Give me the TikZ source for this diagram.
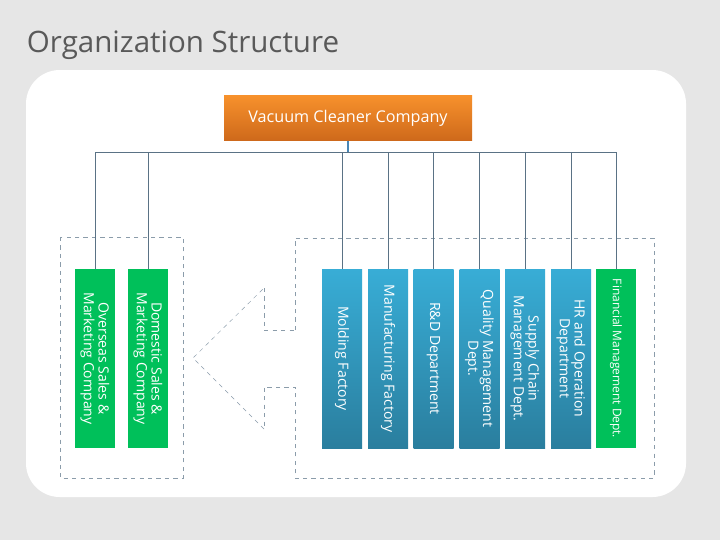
\documentclass[tikz,border=0pt]{standalone}
\usepackage{fontspec}
\setmainfont{Open Sans}
\usetikzlibrary{positioning}
\definecolor{bgGray}{HTML}{E6E6E6}
\definecolor{lineGray}{HTML}{5A7285}
\definecolor{deptBlueT}{HTML}{38ADD6}
\definecolor{deptBlueB}{HTML}{2A7E9E}
\definecolor{deptGreen}{HTML}{00C05A}
\definecolor{ceoTop}{HTML}{F7912C}
\definecolor{ceoBot}{HTML}{CE691B}
\definecolor{stemBlue}{HTML}{4A86B4}
\tikzset{
    dept/.style={minimum width=40, minimum height=179, inner sep=0pt, top color=deptBlueT, bottom color=deptBlueB, draw=none},
    deptG/.style={minimum width=40, minimum height=179, inner sep=0pt, fill=deptGreen, draw=none},
    deptText/.style={rotate=-90, text=white, align=center, font=\fontsize{10}{10.5}\selectfont, inner sep=0pt},
    link/.style={draw=lineGray, line width=0.7pt},
    frame/.style={draw=lineGray!70, dashed, line width=0.5pt},
}
\begin{document}
\begin{tikzpicture}[x=0.025cm, y=-0.025cm]
    \useasboundingbox (0,0) rectangle (720,540);
    \fill[bgGray] (0,0) rectangle (720,540);
    \fill[white, rounded corners=24] (26,70) rectangle (686,497);

    \node[text=black!65, anchor=west, font=\fontsize{21}{21}\selectfont] (title) at (22,45) {Organization Structure};

    % Top company
    \node[top color=ceoTop, bottom color=ceoBot, minimum width=248*0.025cm, minimum height=45*0.025cm, text=white, font=\fontsize{11.5}{12}\selectfont] (ceo) at (348,118) {Vacuum Cleaner Company};
    \coordinate (hub) at (348,152);
    \draw[stemBlue, line width=1.8pt] (ceo.south) -- (hub);

    % Dashed groups
    \draw[frame] (60,237) rectangle (183,478);
    \draw[frame] (295,330) -- (295,238) -- (654,238) -- (654,478) -- (295,478) -- (295,387) -- (264,387) -- (264,429);
    \draw[frame, line width=0.3pt] (264,429) -- (193,358) -- (264,288);
    \draw[frame] (264,288) -- (264,330) -- (295,330);

    % Departments
    \foreach \name/\cx/\sty/\txt in {
        o1/95/deptG/{Overseas Sales \&\\Marketing Company},
        o2/148/deptG/{Domestic Sales \&\\Marketing Company},
        m1/342/dept/{Molding Factory},
        m2/388/dept/{Manufacturing Factory},
        m3/433.5/dept/{R\&D Department},
        m4/479.5/dept/{Quality Management\\Dept.},
        m5/525/dept/{Supply Chain\\Management Dept.},
        m6/571/dept/{HR and Operation\\Department}}{
        \node[\sty, minimum width=40*0.025cm, minimum height=179*0.025cm] (\name) at (\cx,358.5) {};
        \node[deptText] (\name t) at (\name.center) {\txt};
        \draw[link] (\name.north) |- (hub);
    }
    \node[deptG, minimum width=40*0.025cm, minimum height=179*0.025cm] (m7) at (616,358.5) {};
    \node[deptText, font=\fontsize{8.5}{9}\selectfont] (m7t) at (m7.center) {Financial Management Dept.};
    \draw[link] (m7.north) |- (hub);
\end{tikzpicture}
\end{document}
